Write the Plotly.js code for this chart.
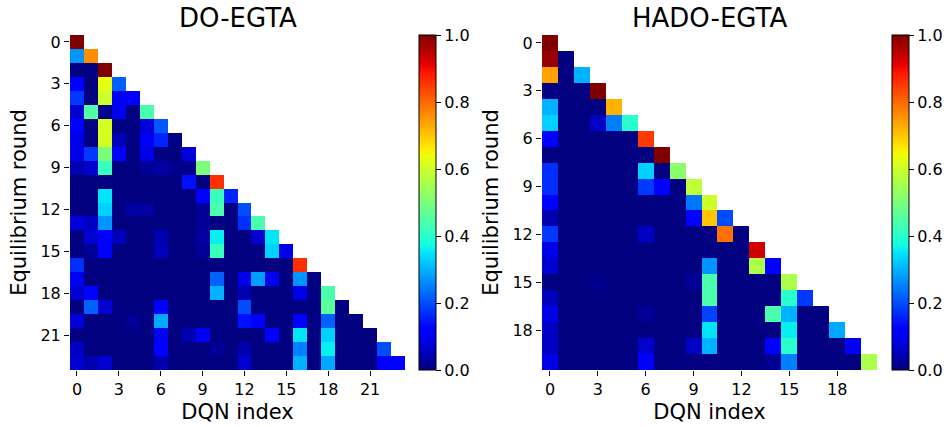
<!DOCTYPE html>
<html>
<head>
<meta charset="utf-8">
<script src="https://cdn.plot.ly/plotly-3.0.1.min.js"></script>
<style>
  html, body { margin: 0; padding: 0; background: #fff; }
  #chart { width: 947px; height: 427px; }
</style>
</head>
<body>
<div id="chart"></div>
<script>
// ---- Data (lower-triangular meta-strategy weights) ----
const leftTitle = "DO-EGTA";
const rightTitle = "HADO-EGTA";
const xTitle = "DQN index";
const yTitle = "Equilibrium round";

const leftTicks = [0, 3, 6, 9, 12, 15, 18, 21];
const rightTicks = [0, 3, 6, 9, 12, 15, 18];
const cbTicks = [0, 0.2, 0.4, 0.6, 0.8, 1.0];
const cbTickText = ["0.0", "0.2", "0.4", "0.6", "0.8", "1.0"];

// DO-EGTA: row r = equilibrium round, entries for DQN 0..r
const doEgtaRows = [
  [1.0],
  [0.27, 0.76],
  [0, 0, 1.0],
  [0.12, 0, 0.63, 0.22],
  [0.18, 0, 0.6, 0.1, 0.12],
  [0.07, 0.45, 0.01, 0.1, 0, 0.44],
  [0.12, 0, 0.61, 0, 0, 0.08, 0.21],
  [0.09, 0, 0.61, 0.05, 0, 0.1, 0.16, 0],
  [0.09, 0.18, 0.5, 0.12, 0, 0.09, 0, 0, 0.08],
  [0.04, 0.07, 0.42, 0, 0, 0.02, 0.03, 0.01, 0.01, 0.5],
  [0, 0, 0, 0, 0, 0, 0, 0, 0.14, 0, 0.86],
  [0, 0, 0.35, 0, 0, 0, 0, 0, 0, 0.11, 0.42, 0.16],
  [0, 0, 0.33, 0, 0.03, 0.03, 0, 0, 0, 0.02, 0.44, 0, 0.2],
  [0.08, 0.06, 0.27, 0, 0, 0, 0, 0, 0, 0.02, 0, 0, 0.17, 0.44],
  [0, 0.07, 0.11, 0.05, 0, 0, 0.04, 0, 0, 0.03, 0.36, 0, 0, 0.07, 0.35],
  [0, 0.02, 0.12, 0, 0, 0, 0.05, 0, 0, 0.02, 0.42, 0, 0, 0, 0.33, 0.09],
  [0.17, 0, 0, 0, 0, 0, 0, 0, 0, 0, 0, 0, 0, 0, 0, 0, 0.86],
  [0.1, 0, 0, 0, 0, 0, 0, 0, 0, 0, 0.22, 0, 0.09, 0.28, 0.1, 0, 0.27, 0],
  [0.07, 0.12, 0, 0, 0, 0, 0, 0, 0, 0, 0.3, 0, 0.04, 0, 0, 0, 0.09, 0, 0.44],
  [0, 0.22, 0.07, 0, 0, 0, 0.11, 0, 0, 0, 0, 0, 0.2, 0, 0, 0, 0, 0, 0.46, 0],
  [0.08, 0, 0, 0, 0.02, 0, 0.29, 0, 0, 0, 0, 0, 0.14, 0.12, 0, 0, 0.12, 0, 0.22, 0, 0],
  [0, 0, 0, 0, 0, 0, 0.1, 0, 0.04, 0.1, 0, 0, 0, 0, 0.12, 0, 0.35, 0, 0.33, 0, 0, 0],
  [0.06, 0, 0, 0, 0, 0, 0.12, 0, 0, 0, 0.02, 0, 0.04, 0, 0, 0, 0.25, 0, 0.36, 0, 0, 0, 0.2],
  [0.07, 0.04, 0.07, 0, 0, 0, 0.04, 0, 0, 0, 0, 0, 0.07, 0, 0, 0, 0.3, 0, 0.29, 0, 0, 0, 0.12, 0.12]
];

// HADO-EGTA
const hadoEgtaRows = [
  [1.0],
  [0.98, 0],
  [0.74, 0, 0.3],
  [0, 0, 0, 1.0],
  [0.3, 0, 0, 0, 0.72],
  [0.33, 0, 0, 0.06, 0.25, 0.4],
  [0.12, 0, 0, 0, 0, 0, 0.85],
  [0, 0, 0, 0, 0, 0, 0, 1.0],
  [0.17, 0, 0, 0, 0, 0, 0.33, 0, 0.52],
  [0.17, 0, 0, 0, 0, 0, 0.18, 0.11, 0, 0.58],
  [0.12, 0, 0, 0, 0, 0, 0, 0, 0, 0.24, 0.6],
  [0.04, 0, 0, 0, 0, 0, 0, 0, 0, 0.12, 0.7, 0.2],
  [0.18, 0, 0, 0, 0, 0, 0.06, 0, 0, 0, 0, 0.79, 0],
  [0.09, 0, 0, 0, 0, 0, 0, 0, 0, 0, 0, 0, 0, 0.93],
  [0.07, 0, 0, 0, 0, 0, 0, 0, 0, 0, 0.27, 0, 0, 0.56, 0.12],
  [0.0, 0, 0, 0.01, 0, 0, 0, 0, 0, 0.02, 0.44, 0, 0, 0, 0, 0.56],
  [0.05, 0, 0, 0, 0, 0, 0, 0, 0, 0, 0.44, 0, 0, 0, 0, 0.4, 0.18],
  [0.09, 0, 0, 0, 0, 0, 0.02, 0, 0, 0, 0.19, 0, 0, 0, 0.44, 0.3, 0, 0],
  [0.06, 0, 0, 0, 0, 0, 0, 0, 0, 0, 0.35, 0, 0, 0, 0, 0.36, 0, 0, 0.29],
  [0.06, 0, 0, 0, 0, 0, 0.07, 0, 0, 0.06, 0.3, 0, 0, 0, 0.12, 0.4, 0, 0, 0, 0.1],
  [0.09, 0, 0, 0, 0, 0, 0.12, 0, 0, 0, 0, 0, 0, 0, 0.02, 0.25, 0, 0, 0, 0, 0.56]
];

// matplotlib "jet"
const jet = [
  [0.0, "rgb(0,0,128)"], [0.11, "rgb(0,0,255)"], [0.125, "rgb(0,0,255)"],
  [0.34, "rgb(0,219,255)"], [0.35, "rgb(0,229,247)"], [0.375, "rgb(20,255,226)"],
  [0.64, "rgb(238,255,8)"], [0.65, "rgb(247,245,0)"], [0.66, "rgb(255,236,0)"],
  [0.89, "rgb(255,19,0)"], [0.91, "rgb(232,0,0)"], [1.0, "rgb(128,0,0)"]
];

function square(rows) {
  const n = rows.length;
  return rows.map(r => { const out = r.slice(); while (out.length < n) out.push(null); return out; });
}
function idx(n) { return Array.from({length: n}, (_, i) => i); }

const FONT = "DejaVu Sans, Verdana, sans-serif";
const W = 947, H = 427;
const plotTop = 35, plotBottom = 370;
const yDom = [(H - plotBottom) / H, (H - plotTop) / H];

function cb(xpx) {
  return {
    x: xpx / W, xanchor: "left", xpad: 0, ypad: 0,
    y: (yDom[0] + yDom[1]) / 2, yanchor: "middle",
    len: plotBottom - plotTop, lenmode: "pixels",
    thickness: 17, thicknessmode: "pixels",
    outlinecolor: "#000", outlinewidth: 1,
    ticks: "outside", ticklen: 5, tickcolor: "#000",
    tickvals: cbTicks, ticktext: cbTickText,
    tickfont: {family: FONT, size: 16, color: "#000"}
  };
}

const nL = doEgtaRows.length, nR = hadoEgtaRows.length;
const traces = [
  {type: "heatmap", z: square(doEgtaRows), x: idx(nL), y: idx(nL),
   colorscale: jet, zmin: 0, zmax: 1, xaxis: "x", yaxis: "y",
   colorbar: cb(419), hoverongaps: false},
  {type: "heatmap", z: square(hadoEgtaRows), x: idx(nR), y: idx(nR),
   colorscale: jet, zmin: 0, zmax: 1, xaxis: "x2", yaxis: "y2",
   colorbar: cb(892), hoverongaps: false}
];

function xax(dom, n, ticks) {
  return {
    domain: dom, range: [-0.5, n - 0.5], tickvals: ticks,
    ticks: "outside", ticklen: 5, tickcolor: "#000", tickwidth: 1,
    showgrid: false, zeroline: false, showline: false,
    tickfont: {family: FONT, size: 16, color: "#000"},
    title: {text: xTitle, font: {family: FONT, size: 21, color: "#000"}, standoff: 6},
    automargin: false
  };
}
function yax(n, ticks, anchor) {
  return {
    domain: yDom, range: [n - 0.5, -0.5], tickvals: ticks, anchor: anchor,
    ticks: "outside", ticklen: 5, tickcolor: "#000", tickwidth: 1,
    showgrid: false, zeroline: false, showline: false,
    tickfont: {family: FONT, size: 16, color: "#000"},
    title: {text: yTitle, font: {family: FONT, size: 21, color: "#000"}, standoff: 8},
    automargin: false
  };
}

const layout = {
  width: W, height: H,
  margin: {l: 0, r: 0, t: 0, b: 0},
  paper_bgcolor: "#fff", plot_bgcolor: "#fff",
  font: {family: FONT, color: "#000"},
  showlegend: false,
  xaxis: xax([70 / W, 405 / W], nL, leftTicks),
  yaxis: yax(nL, leftTicks, "x"),
  xaxis2: Object.assign(xax([542 / W, 877 / W], nR, rightTicks), {anchor: "y2"}),
  yaxis2: yax(nR, rightTicks, "x2"),
  annotations: [
    {text: leftTitle, x: (70 + 405) / 2 / W, y: (H - 18) / H, xref: "paper", yref: "paper",
     xanchor: "center", yanchor: "middle", showarrow: false,
     font: {family: FONT, size: 26, color: "#000"}},
    {text: rightTitle, x: (542 + 877) / 2 / W, y: (H - 18) / H, xref: "paper", yref: "paper",
     xanchor: "center", yanchor: "middle", showarrow: false,
     font: {family: FONT, size: 26, color: "#000"}}
  ]
};

Plotly.newPlot("chart", traces, layout, {staticPlot: true, displayModeBar: false});
</script>
</body>
</html>
